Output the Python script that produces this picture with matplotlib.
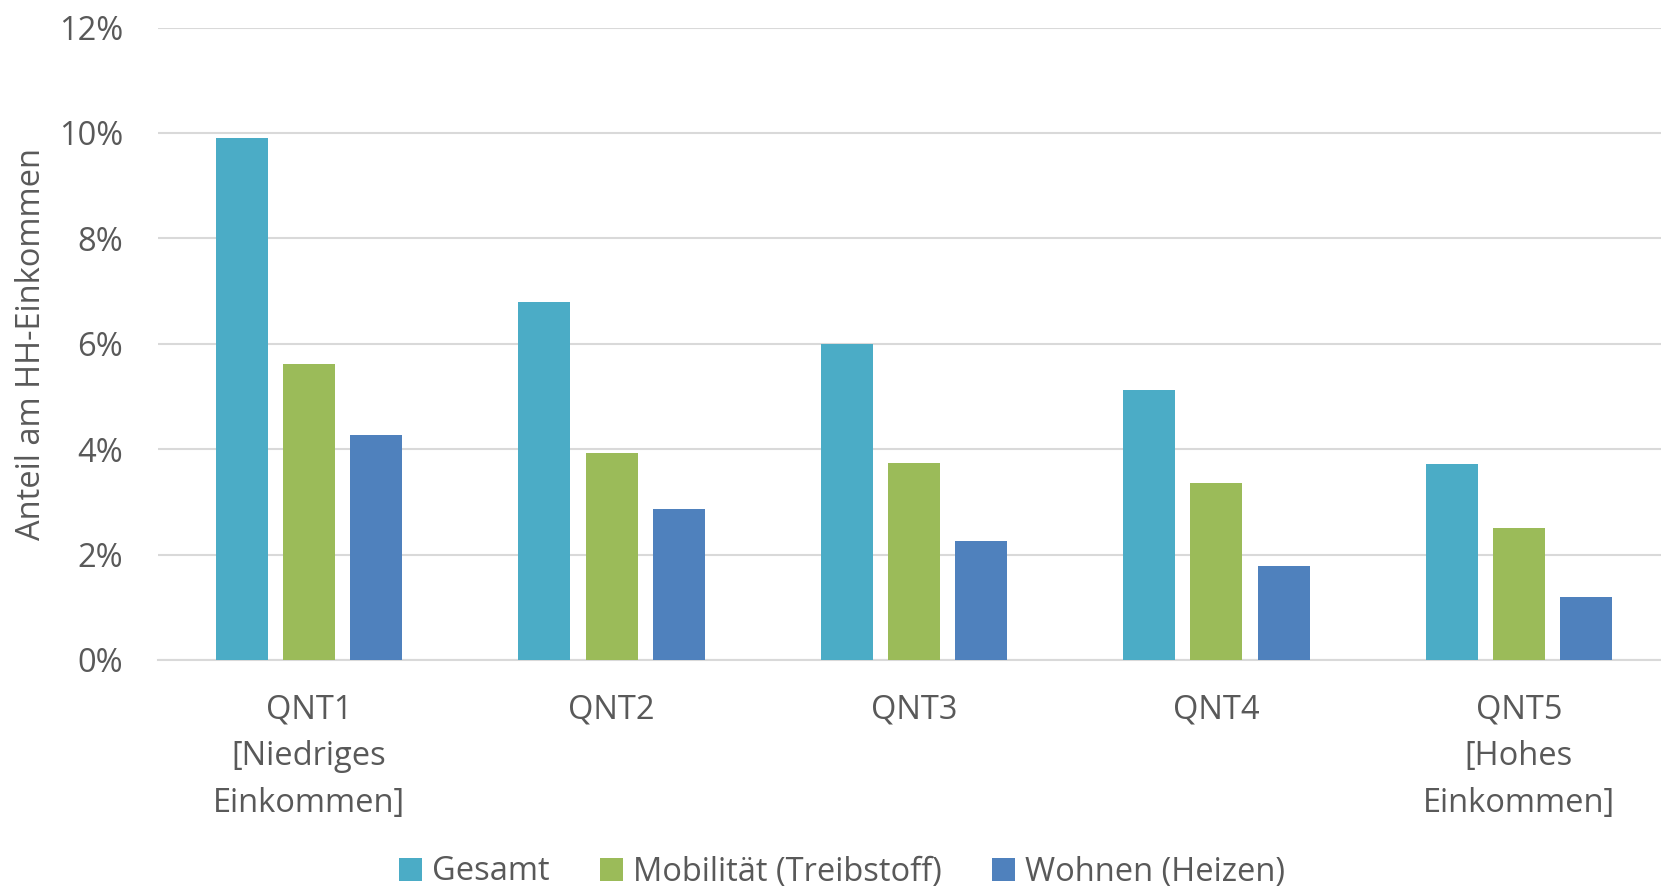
import matplotlib
matplotlib.use("Agg")
import matplotlib.pyplot as plt
import numpy as np
from matplotlib.patches import Patch
from matplotlib.ticker import FuncFormatter

categories = ["QNT1\n[Niedriges\nEinkommen]", "QNT2", "QNT3", "QNT4", "QNT5\n[Hohes\nEinkommen]"]
series_names = ["Gesamt", "Mobilität (Treibstoff)", "Wohnen (Heizen)"]
gesamt = [9.9, 6.8, 6.0, 5.13, 3.71]
mobilitaet = [5.62, 3.93, 3.73, 3.35, 2.50]
wohnen = [4.26, 2.86, 2.26, 1.79, 1.20]
yticks = [0, 2, 4, 6, 8, 10, 12]
colors = ["#4BACC6", "#9BBB59", "#4F81BD"]

plt.rcParams['font.family'] = ['Open Sans', 'DejaVu Sans']
text_color = "#595959"
fs = 23.5

fig = plt.figure(figsize=(16.61, 8.86), dpi=100)
ax = fig.add_axes([158/1661, 1-660/886, 1512/1661, (660-27.5)/886])

x = np.arange(len(categories))
width = 0.172
pitch = 0.222
for i, (vals, col) in enumerate(zip([gesamt, mobilitaet, wohnen], colors)):
    ax.bar(x + (i-1)*pitch, vals, width, color=col, zorder=3, label=series_names[i])

ax.set_xlim(-0.5, len(categories)-0.5)
ax.set_ylim(0, 12)
ax.set_yticks(yticks)
ax.yaxis.set_major_formatter(FuncFormatter(lambda v, p: f"{v:.0f}%"))
ax.set_xticks(x)
ax.set_xticklabels(categories, linespacing=1.56)
ax.grid(axis='y', color='#D9D9D9', linewidth=1.5, zorder=0)
for s in ['top', 'right', 'left']:
    ax.spines[s].set_visible(False)
ax.spines['bottom'].set_color('#D9D9D9')
ax.spines['bottom'].set_linewidth(1.5)
ax.tick_params(axis='both', length=0, labelsize=fs, colors=text_color)
ax.tick_params(axis='y', pad=25)
ax.tick_params(axis='x', pad=24)
ax.set_ylabel("Anteil am HH-Einkommen", fontsize=fs, color=text_color)
ax.yaxis.set_label_coords((48 - 158)/1512, 0.5)

handles = [Patch(facecolor=c, edgecolor='none') for c in colors]
leg = fig.legend(handles, series_names, loc='center', bbox_to_anchor=(0.507, 1-872/886),
                 ncol=3, frameon=False, fontsize=fs, handlelength=0.7, handleheight=0.7,
                 handletextpad=0.3, columnspacing=1.55, labelcolor=text_color)

fig.savefig("out.png", dpi=100)
